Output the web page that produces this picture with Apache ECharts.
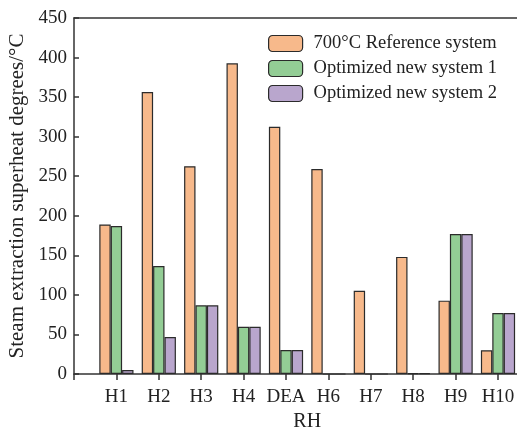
<!DOCTYPE html>
<html>
<head>
<meta charset="utf-8">
<script src="https://cdn.jsdelivr.net/npm/echarts@6/dist/echarts.min.js"></script>
<style>html,body{margin:0;padding:0;background:#fff;}#c{width:517px;height:430px;}</style>
</head>
<body>
<div id="c"></div>
<script>
var categories = ["", "H1", "H2", "H3", "H4", "DEA", "H6", "H7", "H8", "H9", "H10", ""];
var seriesNames = ["700°C Reference system", "Optimized new system 1", "Optimized new system 2"];
var reference = [null, 189, 356.5, 262.6, 392.7, 312.6, 259, 105.3, 148, 92.7, 30, null];
var optimized1 = [null, 187, 136.5, 86.8, 59.8, 30.3, 0, 0, 1, 177, 77, null];
var optimized2 = [null, 5, 46.8, 86.8, 59.8, 30.3, 0, 0, 1, 177, 77, null];
var yTicks = [0, 50, 100, 150, 200, 250, 300, 350, 400, 450];

var colors = ["#F7B98B", "#93CD95", "#B9A6CD"];
var font = "Liberation Serif";
var chart = echarts.init(document.getElementById('c'), null, {renderer: 'canvas'});
function mk(name, data, i) {
  return {
    name: name, type: 'bar', data: data, barWidth: 11.4, barGap: '0%',
    itemStyle: {color: colors[i], borderColor: '#2b2b2b', borderWidth: 1.2},
    emphasis: {disabled: true}
  };
}
chart.setOption({
  animation: false,
  textStyle: {fontFamily: font},
  grid: {left: 74, top: 18, width: 466.4, height: 356, containLabel: false, outerBoundsMode: 'none'},
  legend: {
    orient: 'vertical', left: 268, top: 34, padding: 0, itemWidth: 34, itemHeight: 16, itemGap: 6,
    textStyle: {fontFamily: font, fontSize: 18.5, color: '#222', padding: [0, 0, 0, 6]},
    data: seriesNames.map(function (n, i) {
      return {name: n, itemStyle: {color: colors[i], borderColor: '#2b2b2b', borderWidth: 1.2}};
    })
  },
  xAxis: [{
    type: 'category', data: categories, boundaryGap: false,
    axisLine: {lineStyle: {color: '#333', width: 1.5}},
    axisTick: {show: true, inside: false, length: 6, lineStyle: {color: '#333', width: 1.5}},
    axisLabel: {fontFamily: font, fontSize: 19, color: '#222', margin: 14, interval: 0},
    name: 'RH', nameLocation: 'middle', nameGap: 36,
    nameTextStyle: {fontFamily: font, fontSize: 20, color: '#222'},
    splitLine: {show: false}
  }, {
    type: 'category', data: categories, boundaryGap: false, position: 'top',
    axisLine: {show: true, onZero: false, lineStyle: {color: '#333', width: 1.5}},
    axisTick: {show: false}, axisLabel: {show: false}, splitLine: {show: false}
  }],
  yAxis: {
    type: 'value', min: yTicks[0], max: yTicks[yTicks.length - 1], interval: 50,
    axisLine: {show: true, lineStyle: {color: '#333', width: 1.5}},
    axisTick: {show: true, inside: true, length: 5, lineStyle: {color: '#333', width: 1.5}},
    axisLabel: {fontFamily: font, fontSize: 19, color: '#222', margin: 7},
    splitLine: {show: false},
    name: 'Steam extraction superheat degrees/°C', nameLocation: 'middle', nameGap: 39,
    nameTextStyle: {fontFamily: font, fontSize: 21, color: '#222'}
  },
  series: [mk(seriesNames[0], reference, 0), mk(seriesNames[1], optimized1, 1), mk(seriesNames[2], optimized2, 2)]
});
</script>
</body>
</html>
